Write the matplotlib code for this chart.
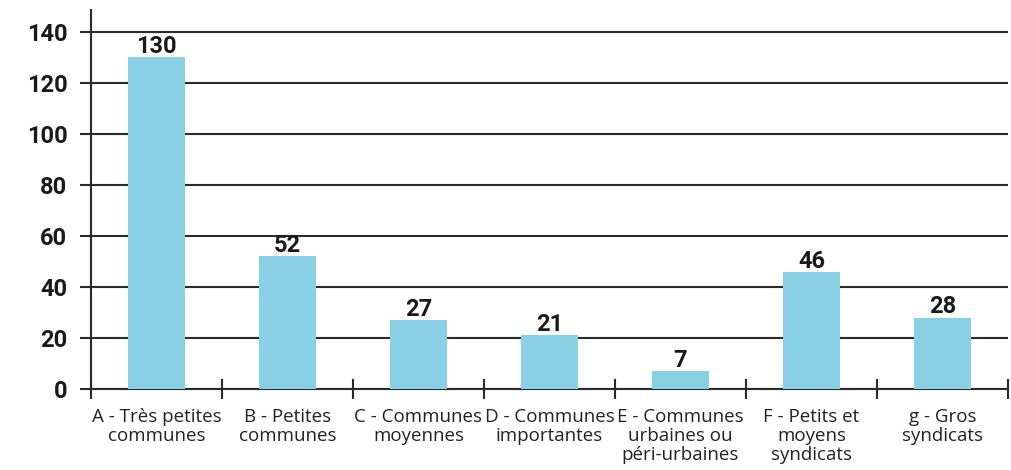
import matplotlib
matplotlib.use("Agg")
import matplotlib.pyplot as plt

categories = [
    "A - Très petites\ncommunes",
    "B - Petites\ncommunes",
    "C - Communes\nmoyennes",
    "D - Communes\nimportantes",
    "E - Communes\nurbaines ou\npéri-urbaines",
    "F - Petits et\nmoyens\nsyndicats",
    "g - Gros\nsyndicats",
]
values = [130, 52, 27, 21, 7, 46, 28]
y_ticks = [0, 20, 40, 60, 80, 100, 120, 140]

bar_color = "#89D0E5"
dark = "#2a2a2a"

W, H = 1012, 470
fig = plt.figure(figsize=(W / 100, H / 100), dpi=100)
ax = fig.add_axes([91 / W, (H - 389) / H, (1008 - 91) / W, (389 - 10) / H])

x = list(range(len(categories)))
ax.bar(x, values, width=0.43, color=bar_color, zorder=3)

for xi, v in zip(x, values):
    ax.annotate(str(v), (xi, v), xytext=(0, 3), textcoords="offset points",
                ha="center", va="baseline", fontsize=17, fontweight="bold",
                family=["Roboto", "DejaVu Sans"], color="#1a1a1a", zorder=4)

ax.set_xlim(-0.5, len(categories) - 0.5)
ax.set_ylim(0, 148.6)

ax.set_yticks(y_ticks)
ax.set_yticklabels([str(t) for t in y_ticks], fontsize=17, fontweight="bold",
                   family=["Roboto", "DejaVu Sans"], color="#1a1a1a")
ax.tick_params(axis="y", direction="out", length=8, width=1.5, color=dark, pad=9)
ax.yaxis.grid(True, color=dark, linewidth=1.5)
ax.set_axisbelow(True)

ax.set_xticks([i - 0.5 for i in range(len(categories) + 1)])
ax.set_xticklabels([])
ax.tick_params(axis="x", which="major", direction="inout", length=14, width=1.5, color=dark)
ax.set_xticks(x, minor=True)
ax.set_xticklabels(categories, minor=True, fontsize=13.5, family=["Open Sans", "DejaVu Sans"],
                   color="#222222", linespacing=1.05)
ax.tick_params(axis="x", which="minor", length=0, pad=14)

for s in ["top", "right"]:
    ax.spines[s].set_visible(False)
for s in ["left", "bottom"]:
    ax.spines[s].set_color(dark)
    ax.spines[s].set_linewidth(1.5)

fig.savefig("out.png", dpi=100)
